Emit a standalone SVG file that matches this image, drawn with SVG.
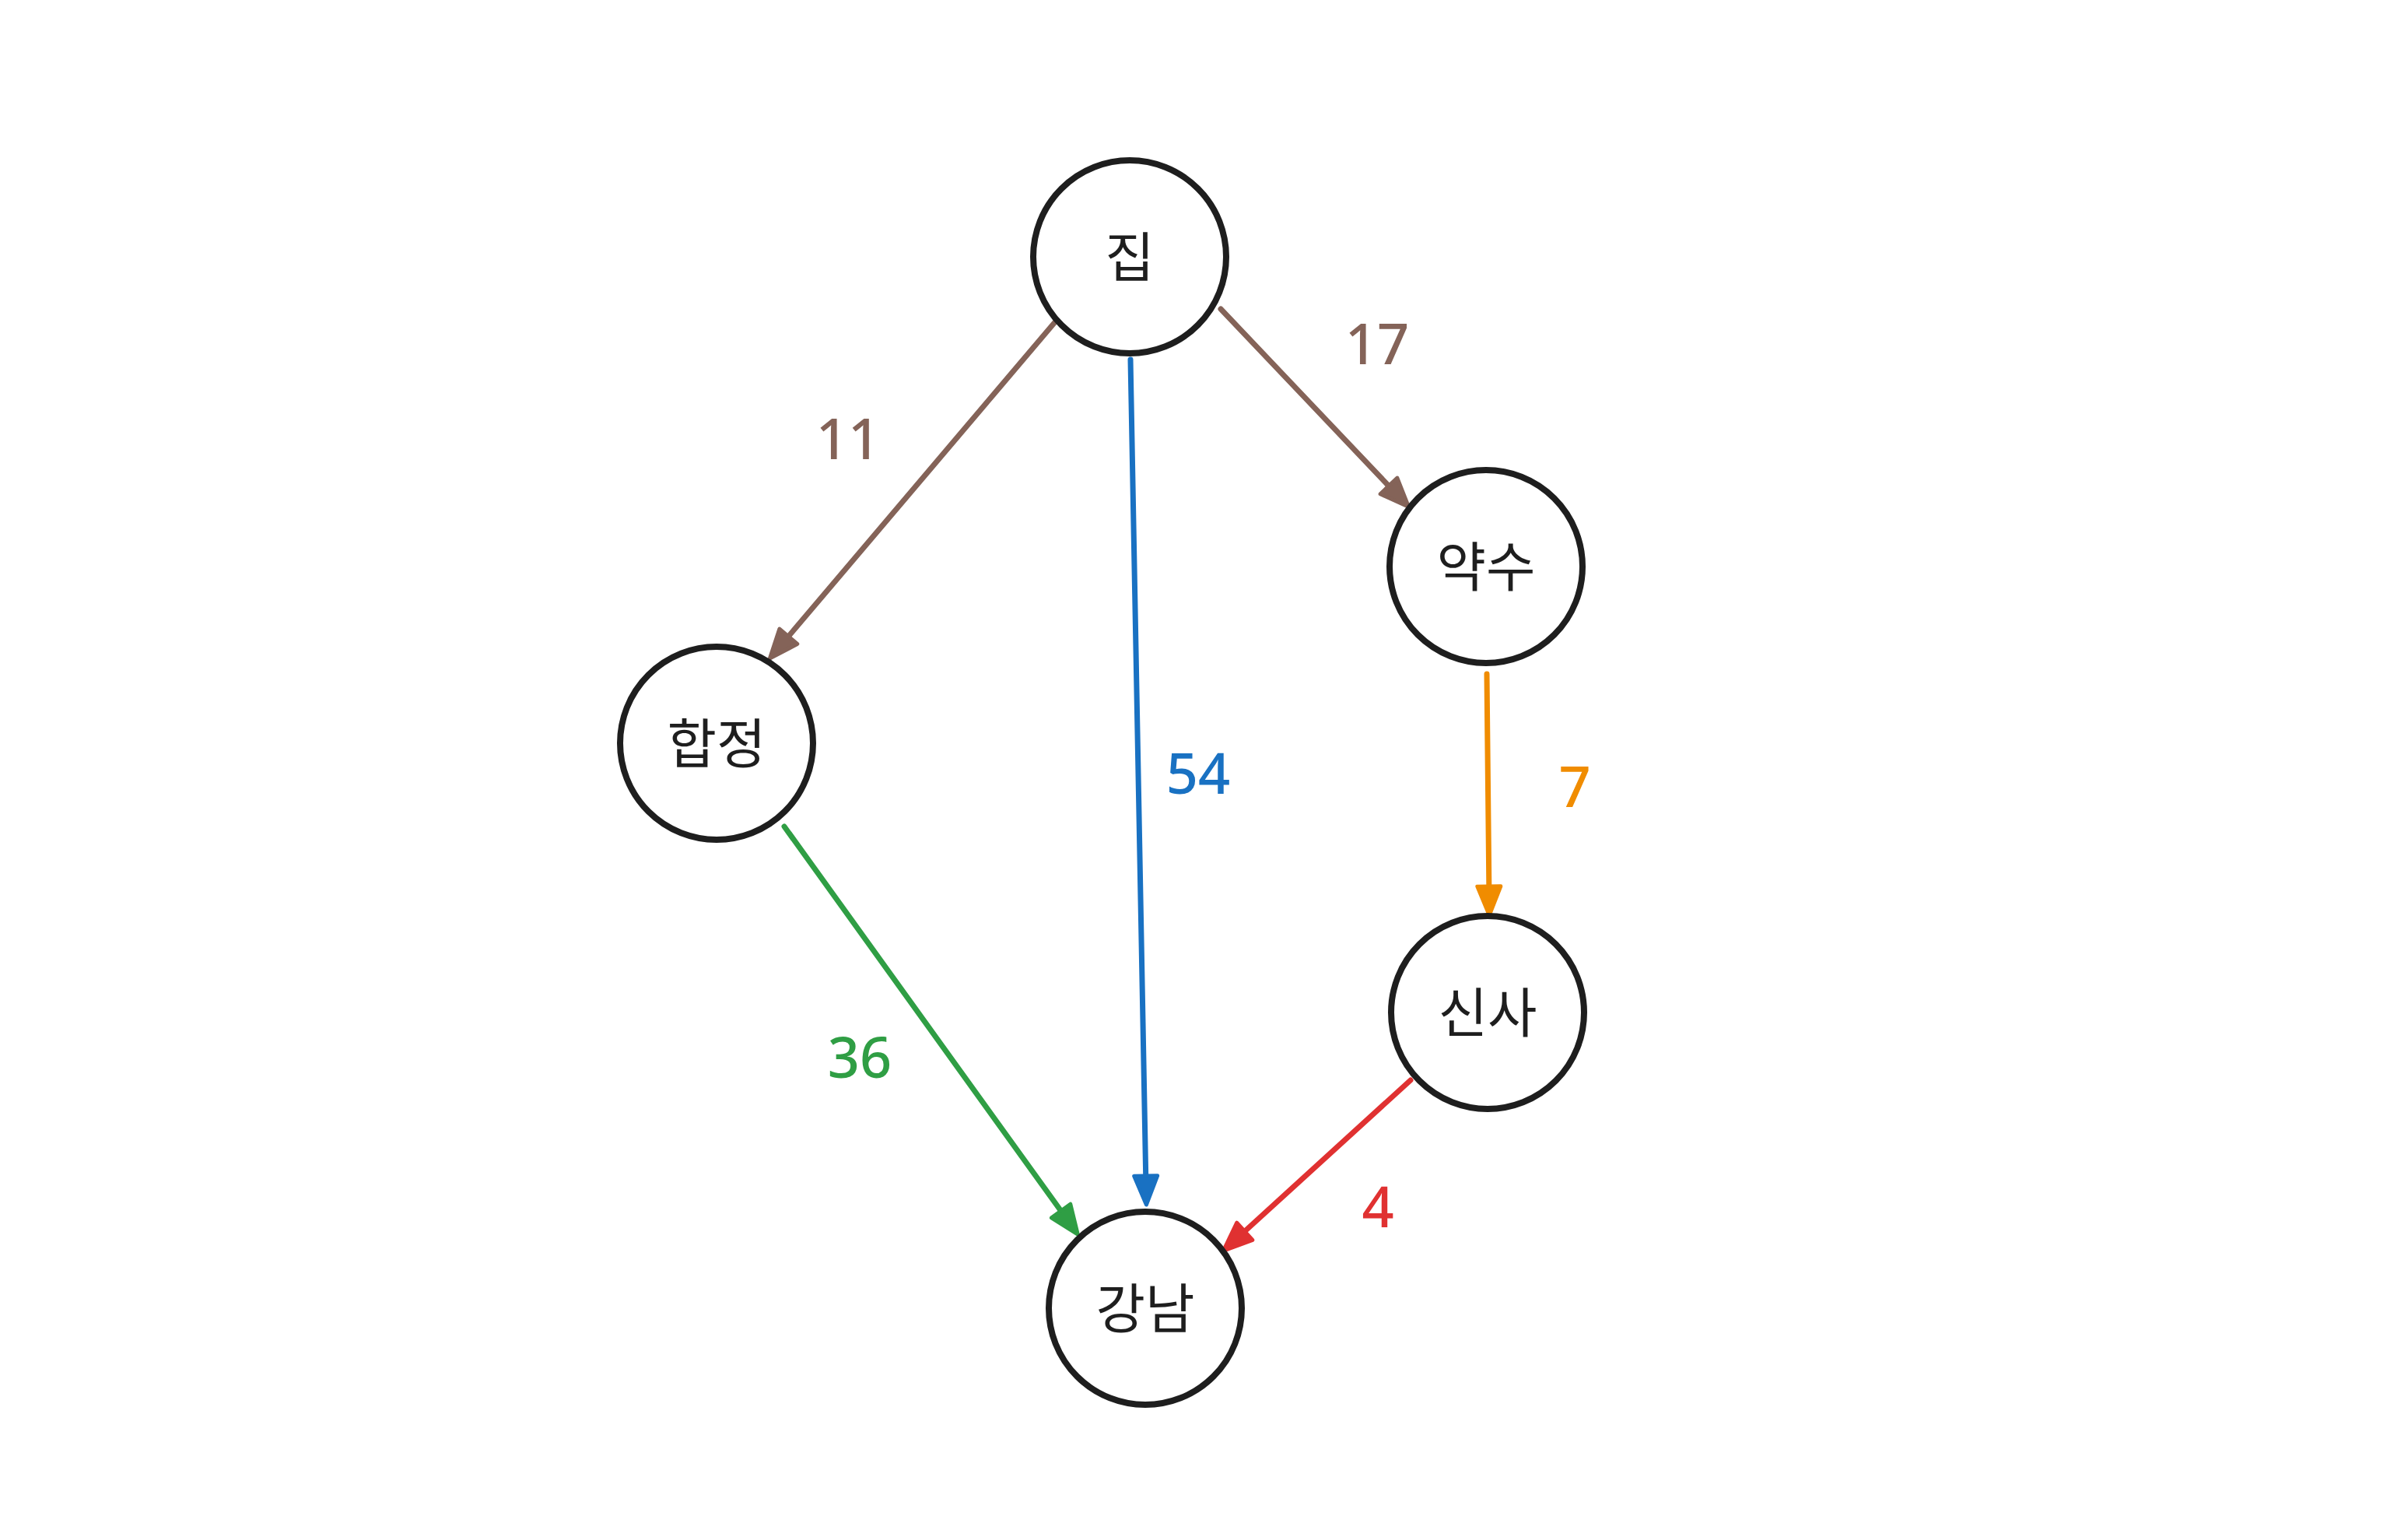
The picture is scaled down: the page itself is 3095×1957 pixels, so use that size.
<svg xmlns="http://www.w3.org/2000/svg" width="3095" height="1957" viewBox="0 0 3095 1957">
<style>
.node circle{fill:#ffffff;stroke:#1e1e1e;stroke-width:8}
.node text{font-family:"Noto Sans CJK KR","Noto Sans",sans-serif;font-size:69px;fill:#1e1e1e;text-anchor:middle;dominant-baseline:central}
.edge{fill:none;stroke-width:7;stroke-linecap:round}
.lbl{font-family:"Noto Sans","Liberation Sans",sans-serif;font-size:72px;font-weight:500;text-anchor:middle}
</style>
<defs>
<marker id="ab" viewBox="0 0 44 38" refX="20" refY="19" markerWidth="44" markerHeight="38" markerUnits="userSpaceOnUse" orient="auto" overflow="visible"><path d="M4,4 L41,19 L4,34 Z" fill="#846358" stroke="#846358" stroke-width="5" stroke-linejoin="round"/></marker>
<marker id="abl" viewBox="0 0 44 38" refX="20" refY="19" markerWidth="44" markerHeight="38" markerUnits="userSpaceOnUse" orient="auto" overflow="visible"><path d="M4,4 L41,19 L4,34 Z" fill="#1971c2" stroke="#1971c2" stroke-width="5" stroke-linejoin="round"/></marker>
<marker id="ao" viewBox="0 0 44 38" refX="20" refY="19" markerWidth="44" markerHeight="38" markerUnits="userSpaceOnUse" orient="auto" overflow="visible"><path d="M4,4 L41,19 L4,34 Z" fill="#f08c00" stroke="#f08c00" stroke-width="5" stroke-linejoin="round"/></marker>
<marker id="ag" viewBox="0 0 44 38" refX="20" refY="19" markerWidth="44" markerHeight="38" markerUnits="userSpaceOnUse" orient="auto" overflow="visible"><path d="M4,4 L41,19 L4,34 Z" fill="#2f9e44" stroke="#2f9e44" stroke-width="5" stroke-linejoin="round"/></marker>
<marker id="ar" viewBox="0 0 44 38" refX="20" refY="19" markerWidth="44" markerHeight="38" markerUnits="userSpaceOnUse" orient="auto" overflow="visible"><path d="M4,4 L41,19 L4,34 Z" fill="#e03131" stroke="#e03131" stroke-width="5" stroke-linejoin="round"/></marker>
</defs>
<rect width="3095" height="1957" fill="#ffffff"/>
<g id="connectors">
<line class="edge" x1="1355" y1="415" x2="1003" y2="830" stroke="#846358" marker-end="url(#ab)"/>
<line class="edge" x1="1453" y1="462" x2="1473" y2="1527" stroke="#1971c2" marker-end="url(#abl)"/>
<line class="edge" x1="1569" y1="397" x2="1796" y2="636" stroke="#846358" marker-end="url(#ab)"/>
<line class="edge" x1="1911" y1="866" x2="1914" y2="1155" stroke="#f08c00" marker-end="url(#ao)"/>
<line class="edge" x1="1008" y1="1062" x2="1373" y2="1569" stroke="#2f9e44" marker-end="url(#ag)"/>
<line class="edge" x1="1813" y1="1388" x2="1588" y2="1593" stroke="#e03131" marker-end="url(#ar)"/>
<text class="lbl" x="1090" y="590" fill="#846358">11</text>
<text class="lbl" x="1770" y="468" fill="#846358">17</text>
<text class="lbl" x="1540" y="1020" fill="#1971c2">54</text>
<text class="lbl" x="2024" y="1037" fill="#f08c00">7</text>
<text class="lbl" x="1105" y="1385" fill="#2f9e44">36</text>
<text class="lbl" x="1771" y="1577" fill="#e03131">4</text>
</g>
<g id="node-jip" class="node"><circle cx="1452" cy="330" r="124"/><text x="1452" y="326">집</text></g>
<g id="node-yaksu" class="node"><circle cx="1910" cy="728" r="124"/><text x="1910" y="724">약수</text></g>
<g id="node-hapjeong" class="node"><circle cx="921" cy="955" r="124"/><text x="921" y="951">합정</text></g>
<g id="node-sinsa" class="node"><circle cx="1912" cy="1301" r="124"/><text x="1912" y="1297">신사</text></g>
<g id="node-gangnam" class="node"><circle cx="1472" cy="1681" r="124"/><text x="1472" y="1677">강남</text></g>
</svg>
